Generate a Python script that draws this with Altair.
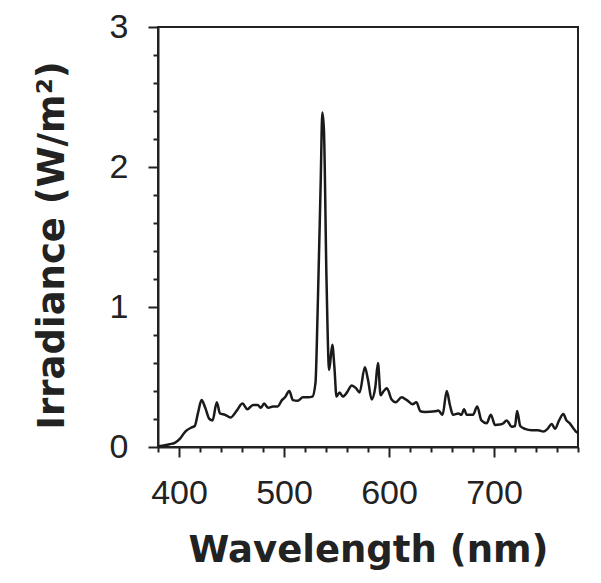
import altair as alt
import pandas as pd

wavelength = [381, 391, 396, 401, 406, 412, 415, 418, 421.5, 425, 429, 432, 436, 439, 444, 449,
              455, 460.5, 465, 470.5, 475, 478, 481, 485, 489.5, 494, 498, 501, 505, 508.5, 513,
              518, 523, 527, 530, 532, 535, 536.5, 538, 540.5, 543, 546, 548, 550, 553, 556, 560,
              564.5, 568.5, 572, 577, 580, 583.5, 587, 589.5, 592, 595, 598, 602.5, 606.5, 612,
              617, 622.5, 626, 630, 634, 644, 647, 651, 655, 658, 661, 666, 669, 671.5, 674, 680,
              684, 688, 693, 697, 701, 705.5, 709, 712, 717, 720, 722, 725, 729.5, 736, 742, 747,
              751, 755, 758, 762, 766, 769, 772, 775, 778, 780]
irradiance = [0.005, 0.02, 0.03, 0.06, 0.11, 0.14, 0.15, 0.24, 0.335, 0.28, 0.2, 0.19, 0.32, 0.24,
              0.23, 0.21, 0.26, 0.31, 0.27, 0.30, 0.30, 0.28, 0.31, 0.28, 0.29, 0.29, 0.335, 0.355,
              0.40, 0.335, 0.33, 0.355, 0.355, 0.36, 0.46, 0.96, 1.91, 2.39, 2.27, 1.19, 0.55, 0.73,
              0.57, 0.36, 0.39, 0.36, 0.39, 0.44, 0.42, 0.39, 0.57, 0.48, 0.34, 0.43, 0.60, 0.37,
              0.40, 0.42, 0.34, 0.32, 0.355, 0.335, 0.305, 0.32, 0.255, 0.25, 0.255, 0.26, 0.23,
              0.40, 0.30, 0.23, 0.24, 0.23, 0.27, 0.23, 0.23, 0.29, 0.19, 0.17, 0.23, 0.157, 0.16,
              0.17, 0.19, 0.145, 0.15, 0.257, 0.15, 0.13, 0.12, 0.12, 0.11, 0.13, 0.165, 0.13, 0.19,
              0.235, 0.19, 0.17, 0.14, 0.11, 0.10]

x_major = [400, 500, 600, 700]
x_minor = [380, 420, 440, 460, 480, 520, 540, 560, 580, 620, 640, 660, 680, 720, 740, 760, 780]
y_major = [0, 1, 2, 3]
y_minor = [0.2, 0.4, 0.6, 0.8, 1.2, 1.4, 1.6, 1.8, 2.2, 2.4, 2.6, 2.8]

df = pd.DataFrame({"wavelength": wavelength, "irradiance": irradiance})

INK = "#222222"
xscale = alt.Scale(domain=[380, 780], nice=False, zero=False)
yscale = alt.Scale(domain=[0, 3], nice=False)

line = alt.Chart(df).mark_line(color="#1a1a1a", strokeWidth=2.5, interpolate="monotone").encode(
    x=alt.X("wavelength:Q", scale=xscale, title="Wavelength (nm)",
            axis=alt.Axis(values=x_major, orient="bottom", tickSize=10, tickWidth=2, tickColor=INK,
                          domainColor=INK, domainWidth=2, grid=False, labelFont="Liberation Sans",
                          labelFontSize=34, labelColor=INK, labelPadding=36, labelBaseline="middle",
                          titleFont="DejaVu Sans", titleFontSize=37, titleFontWeight="bold",
                          titleColor=INK, titleX=210, titleY=103, titleBaseline="middle",
                          titleAlign="center")),
    y=alt.Y("irradiance:Q", scale=yscale, title="Irradiance (W/m²)",
            axis=alt.Axis(values=y_major, orient="left", tickSize=10, tickWidth=2, tickColor=INK,
                          domainColor=INK, domainWidth=2, grid=False, labelFont="Liberation Sans",
                          labelFontSize=34, labelColor=INK, labelPadding=20, labelAlign="right",
                          labelBaseline="middle",
                          titleFont="DejaVu Sans", titleFontSize=37, titleFontWeight="bold",
                          titleColor=INK, titleX=-106, titleY=218, titleAngle=270,
                          titleBaseline="middle", titleAlign="center")),
)

minor = alt.Chart(df).mark_line(strokeOpacity=0).encode(
    x=alt.X("wavelength:Q", scale=xscale, title="",
            axis=alt.Axis(values=x_minor, orient="bottom", tickSize=5, tickWidth=2, tickColor=INK,
                          domain=False, labels=False, grid=False)),
    y=alt.Y("irradiance:Q", scale=yscale, title="",
            axis=alt.Axis(values=y_minor, orient="left", tickSize=5, tickWidth=2, tickColor=INK,
                          domain=False, labels=False, grid=False)),
)

chart = alt.layer(line, minor).resolve_axis(x="independent", y="independent").properties(
    width=420, height=420,
    autosize=alt.AutoSizeParams(type="none"),
    padding={"left": 150, "top": 19, "right": 15, "bottom": 128},
).configure_view(stroke=INK, strokeWidth=2)

chart.save("out.html", embed_options={"renderer": "svg", "actions": False})
